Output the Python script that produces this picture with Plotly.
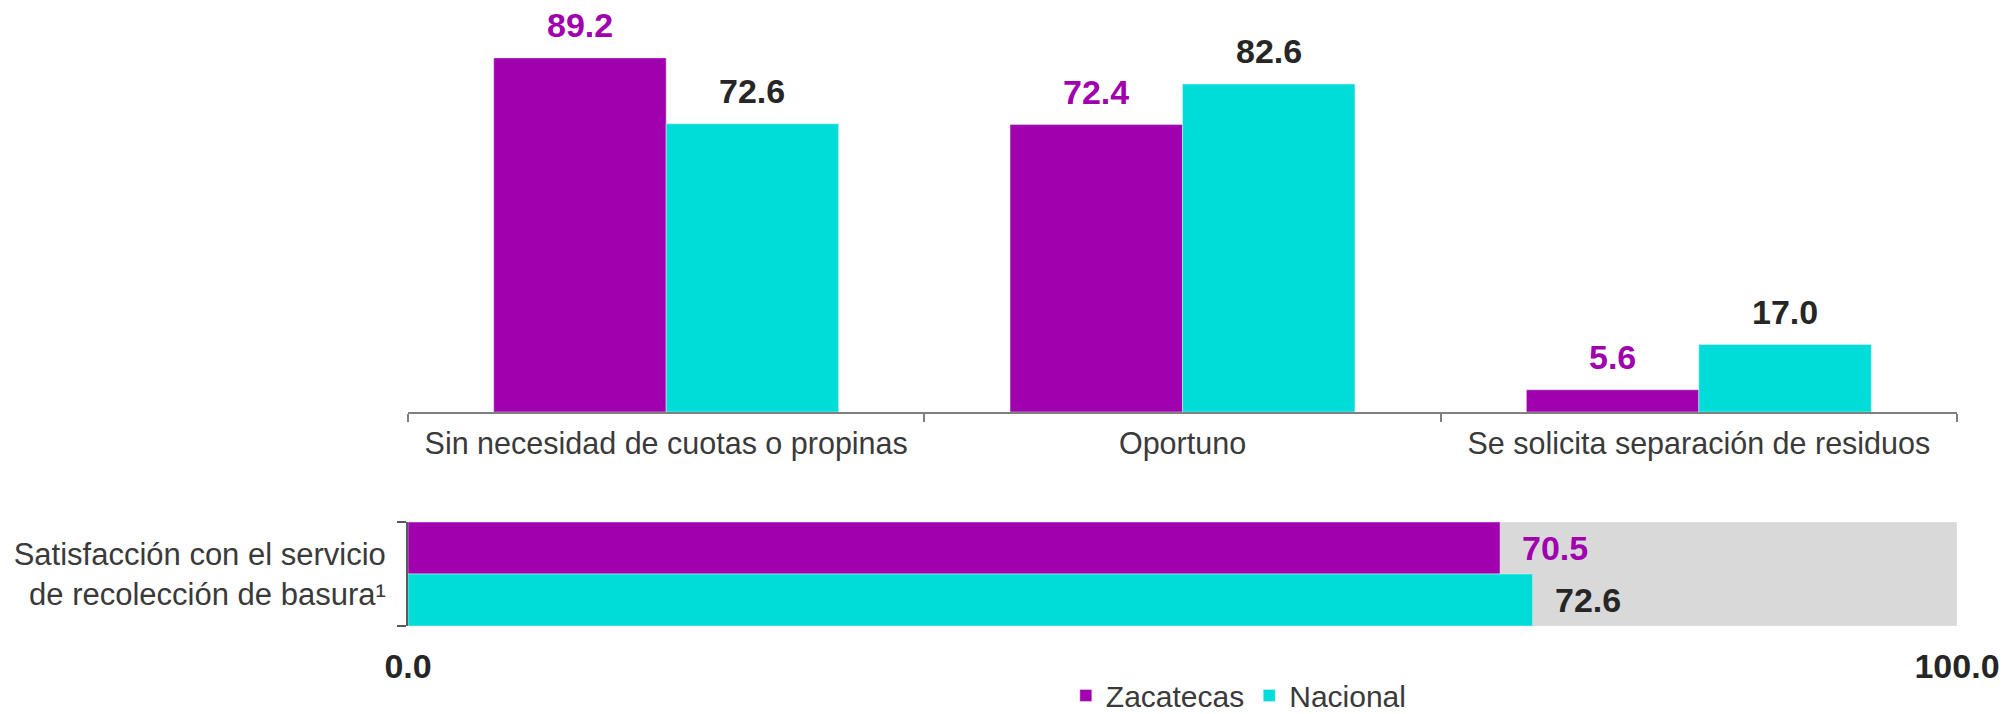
import plotly.graph_objects as go

# ---- data ----
categories = ["Sin necesidad de cuotas o propinas", "Oportuno", "Se solicita separación de residuos"]
zacatecas = [89.2, 72.4, 5.6]
nacional = [72.6, 82.6, 17.0]

sat_label = "Satisfacción con el servicio<br>de recolección de basura¹"
sat_zacatecas = 70.5
sat_nacional = 72.6
sat_total = 100.0
bottom_ticks = [0, 100]
bottom_ticktext = ["0.0", "100.0"]

series_names = ["Zacatecas", "Nacional"]

# ---- style ----
PURPLE = "#A000AE"
CYAN = "#00DCD8"
GRAY = "#D9D9D9"
TXT = "#3A3A3A"
DARK = "#262626"
FONT = "Liberation Sans, Arial, sans-serif"
BARGAP = 0.332

fig = go.Figure()

# top grouped bars
fig.add_trace(go.Bar(x=categories, y=zacatecas, name=series_names[0], marker_color=PURPLE,
                     xaxis="x", yaxis="y", legendgroup="z", cliponaxis=False))
fig.add_trace(go.Bar(x=categories, y=nacional, name=series_names[1], marker_color=CYAN,
                     xaxis="x", yaxis="y", legendgroup="n", cliponaxis=False))

# bottom horizontal bars
fig.add_trace(go.Bar(y=[0.5], x=[sat_total], orientation="h", marker_color=GRAY, width=2, offset=-1,
                     xaxis="x2", yaxis="y2", showlegend=False, hoverinfo="skip"))
fig.add_trace(go.Bar(y=[1], x=[sat_zacatecas], orientation="h", marker_color=PURPLE, width=1, offset=-0.5,
                     xaxis="x2", yaxis="y2", showlegend=False, legendgroup="z"))
fig.add_trace(go.Bar(y=[0], x=[sat_nacional], orientation="h", marker_color=CYAN, width=1, offset=-0.5,
                     xaxis="x2", yaxis="y2", showlegend=False, legendgroup="n"))

annotations = []
half = (1 - BARGAP) / 4
for i, (z, n) in enumerate(zip(zacatecas, nacional)):
    annotations.append(dict(x=i - half, y=z, xref="x", yref="y", text=f"{z:.1f}", showarrow=False,
                            yanchor="bottom", yshift=12,
                            font=dict(family=FONT, size=34, color=PURPLE, weight="bold")))
    annotations.append(dict(x=i + half, y=n, xref="x", yref="y", text=f"{n:.1f}", showarrow=False,
                            yanchor="bottom", yshift=12,
                            font=dict(family=FONT, size=34, color=DARK, weight="bold")))
annotations.append(dict(x=sat_zacatecas, y=1, xref="x2", yref="y2", text=f"{sat_zacatecas:.1f}",
                        showarrow=False, xanchor="left", xshift=20,
                        font=dict(family=FONT, size=34, color=PURPLE, weight="bold")))
annotations.append(dict(x=sat_nacional, y=0, xref="x2", yref="y2", text=f"{sat_nacional:.1f}",
                        showarrow=False, xanchor="left", xshift=20,
                        font=dict(family=FONT, size=34, color=DARK, weight="bold")))

fig.update_layout(
    width=2011, height=714,
    margin=dict(l=408, r=54, t=15, b=88, autoexpand=False),
    paper_bgcolor="white", plot_bgcolor="white",
    barmode="group", bargap=BARGAP, bargroupgap=0,
    font=dict(family=FONT, size=30, color=TXT),
    showlegend=True,
    legend=dict(orientation="h", xref="container", yref="container", x=0.530, xanchor="left",
                y=0.026, yanchor="middle",
                font=dict(family=FONT, size=30, color=TXT), bgcolor="rgba(0,0,0,0)",
                itemclick=False),
    xaxis=dict(domain=[0, 1], anchor="y", type="category", showline=True, linecolor="#808080",
               linewidth=2, ticks="outside", tickson="boundaries", ticklen=8, tickcolor="#808080",
               tickwidth=2, showgrid=False, tickfont=dict(family=FONT, size=30.5, color=TXT),
               ticklabelstandoff=3, automargin=False),
    yaxis=dict(domain=[0.3502, 1], anchor="x", range=[0, 100], visible=False, automargin=False),
    xaxis2=dict(domain=[0, 1], anchor="y2", range=[0, 100], tickvals=bottom_ticks, ticktext=bottom_ticktext,
                showline=False, showgrid=False, zeroline=False, ticks="",
                tickfont=dict(family=FONT, size=34, color=DARK, weight="bold"), ticklabelstandoff=17,
                automargin=False),
    yaxis2=dict(domain=[0, 0.1702], anchor="x2", range=[-0.5, 1.5], tickvals=[0.5], ticktext=[sat_label],
                showline=True, linecolor="#595959", linewidth=2, ticks="", showgrid=False, zeroline=False,
                minor=dict(tickvals=[-0.5, 1.5], ticks="outside", ticklen=9, tickcolor="#595959", tickwidth=2),
                tickfont=dict(family=FONT, size=31, color=TXT), ticklabelstandoff=14, automargin=False),
    annotations=annotations,
)

fig.write_html(
    "out.html",
    config={"displayModeBar": False},
    post_script="document.body.style.margin='0';document.body.style.padding='0';"
                "document.documentElement.style.overflow='hidden';",
)
